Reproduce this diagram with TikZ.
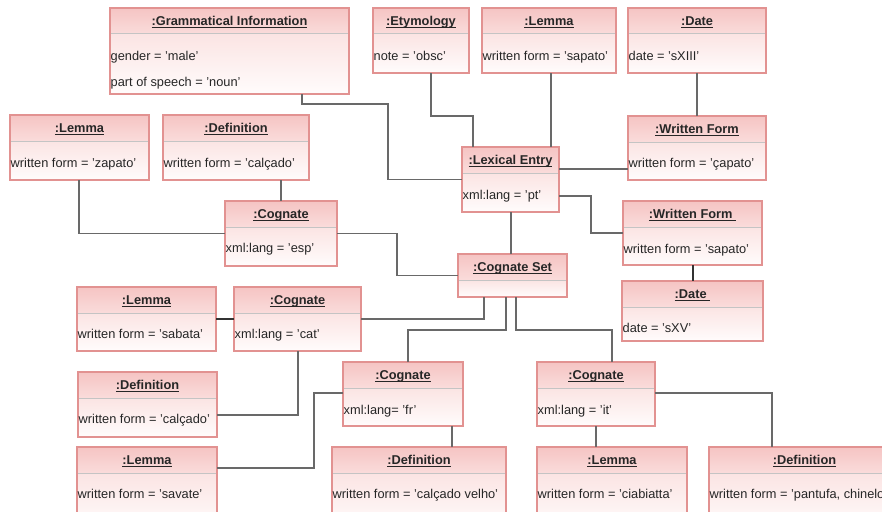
\documentclass[tikz,border=0pt]{standalone}
\usepackage{fontspec}
\setmainfont{Liberation Sans}
\definecolor{hdtop}{RGB}{245,196,195}
\definecolor{hdbot}{RGB}{250,220,219}
\definecolor{bdtop}{RGB}{251,228,227}
\definecolor{bdbot}{RGB}{255,252,252}
\definecolor{bord}{RGB}{226,146,145}
\definecolor{sepc}{RGB}{196,196,196}
\definecolor{txt}{RGB}{38,38,38}
\definecolor{lnc}{RGB}{105,105,105}
\newcommand\uln[1]{\setbox0\hbox{#1}\rlap{\color{txt}\vrule width\wd0 height -1.5pt depth 2.5pt}\box0}
\tikzset{
  objframe/.style={draw=bord, line width=1.2pt, inner sep=0pt, outer sep=0pt},
  sepline/.style={draw=sepc, line width=1pt},
  ttl/.style={font=\fontsize{12.8}{15}\selectfont\bfseries, text=txt, inner sep=0pt, anchor=base},
  attr/.style={font=\fontsize{12.8}{15}\selectfont, text=txt, inner sep=0pt, anchor=base west},
  conn/.style={draw=lnc, line width=1.3pt},
  thickconn/.style={draw=black!80, line width=2pt}
}
% name, left, top, right, bottom, title
\newcommand\obj[6]{%
  \fill[top color=hdtop,bottom color=hdbot] (#2,#3) rectangle (#4,#3+26);
  \fill[top color=bdtop,bottom color=bdbot] (#2,#3+26) rectangle (#4,#5);
  \draw[sepline] (#2,#3+26) -- (#4,#3+26);
  \node[objframe, minimum width={(#4-#2)*1pt}, minimum height={(#5-#3)*1pt}, anchor=north west] (#1) at (#2,#3) {};
  \node[ttl] (#1-t) at ({(#2+#4)/2},#3+17.6) {\uln{#6}};
}
% name, left, baseline, text
\newcommand\att[4]{\node[attr] (#1) at (#2+0.5,#3) {#4};}
\begin{document}
\begin{tikzpicture}[x=1pt,y=-1pt]
\useasboundingbox (0,0) rectangle (882,511);
\clip (0,0) rectangle (882,511);
\fill[white] (0,0) rectangle (882,511);

% connectors (drawn first)
\obj{gi}{110}{8}{349}{94}{:Grammatical Information}
\obj{ety}{373}{8}{469}{73}{:Etymology}
\obj{lemA}{482}{8}{616}{73}{:Lemma}
\obj{dateA}{628}{8}{766}{73}{:Date}
\obj{wfA}{628}{116}{766}{180}{:Written Form}
\obj{lemZ}{10}{115}{149}{180}{:Lemma}
\obj{defC}{163}{115}{309}{180}{:Definition}
\obj{cogE}{225}{201}{337}{266}{:Cognate}
\obj{lex}{462}{147}{559}{212}{:Lexical Entry}
\obj{cset}{458}{254}{567}{297}{:Cognate Set}
\obj{wfB}{623}{201}{762}{265}{:Written Form\ }
\obj{dateB}{622}{281}{763}{341}{:Date\ }
\obj{lemS}{77}{287}{216}{351}{:Lemma}
\obj{cogC}{234}{287}{361}{351}{:Cognate}
\obj{defC2}{78}{372}{217}{437}{:Definition}
\obj{cogF}{343}{362}{463}{426}{:Cognate}
\obj{cogI}{537}{362}{655}{426}{:Cognate}
\obj{lemSv}{77}{447}{217}{530}{:Lemma}
\obj{defV}{332}{447}{506}{530}{:Definition}
\obj{lemCi}{537}{447}{687}{530}{:Lemma}
\obj{defP}{709}{447}{900}{530}{:Definition}

\att{gi-a}{110}{60.5}{gender = 'male'}
\att{gi-b}{110}{86.5}{part of speech = 'noun'}
\att{ety-a}{373}{60.5}{note = 'obsc'}
\att{lemA-a}{482}{60.5}{written form = 'sapato'}
\att{dateA-a}{628}{60.5}{date = 'sXIII'}
\att{wfA-a}{628}{167.5}{written form = 'çapato'}
\att{lemZ-a}{10}{167.5}{written form = 'zapato'}
\att{defC-a}{163}{167.5}{written form = 'calçado'}
\att{cogE-a}{225}{252.5}{xml:lang = 'esp'}
\att{lex-a}{462}{199.5}{xml:lang = 'pt'}
\att{wfB-a}{623}{253.5}{written form = 'sapato'}
\att{dateB-a}{622}{332.5}{date = 'sXV'}
\att{lemS-a}{77}{338.5}{written form = 'sabata'}
\att{cogC-a}{234}{338.5}{xml:lang = 'cat'}
\att{defC2-a}{78}{423.5}{written form = 'calçado'}
\att{cogF-a}{343}{414.5}{xml:lang= 'fr'}
\att{cogI-a}{537}{414.5}{xml:lang = 'it'}
\att{lemSv-a}{77}{498.5}{written form = 'savate'}
\att{defV-a}{332}{498.5}{written form = 'calçado velho'}
\att{lemCi-a}{537}{498.5}{written form = 'ciabiatta'}
\att{defP-a}{709}{498.5}{written form = 'pantufa, chinelo'}

% connectors
\draw[conn] (302,0 |- gi.south) |- (388,104) |- (lex.west);
\draw[conn] (431,0 |- ety.south) |- (473,116) -- (473,0 |- lex.north);
\draw[conn] (551,0 |- lemA.south) -- (551,0 |- lex.north);
\draw[conn] (dateA.south) -- (wfA.north);
\draw[conn] (lex.east |- 0,169) -- (wfA.west |- 0,169);
\draw[conn] (lex.east |- 0,196) -| (591,0 |- wfB.west) -- (wfB.west);
\draw[thickconn] (wfB.south) -- (dateB.north);
\draw[conn] (511,0 |- lex.south) -- (511,0 |- cset.north);
\draw[conn] (79,0 |- lemZ.south) |- (cogE.west);
\draw[conn] (281,0 |- defC.south) -- (281,0 |- cogE.north);
\draw[conn] (cogE.east) -| (397,0 |- cset.west) -- (cset.west);
\draw[conn] (484,0 |- cset.south) |- (cogC.east);
\draw[conn] (506,0 |- cset.south) |- (408,330) -- (408,0 |- cogF.north);
\draw[conn] (516,0 |- cset.south) |- (612,330) -- (612,0 |- cogI.north);
\draw[thickconn] (lemS.east) -- (cogC.west);
\draw[conn] (defC2.east |- 0,415) -| (298,0 |- cogC.south);
\draw[conn] (cogF.west |- 0,393) -| (314,468) -- (lemSv.east |- 0,468);
\draw[conn] (452,0 |- cogF.south) -- (452,0 |- defV.north);
\draw[conn] (596,0 |- cogI.south) -- (596,0 |- lemCi.north);
\draw[conn] (cogI.east |- 0,393) -| (772,0 |- defP.north);
\end{tikzpicture}
\end{document}
